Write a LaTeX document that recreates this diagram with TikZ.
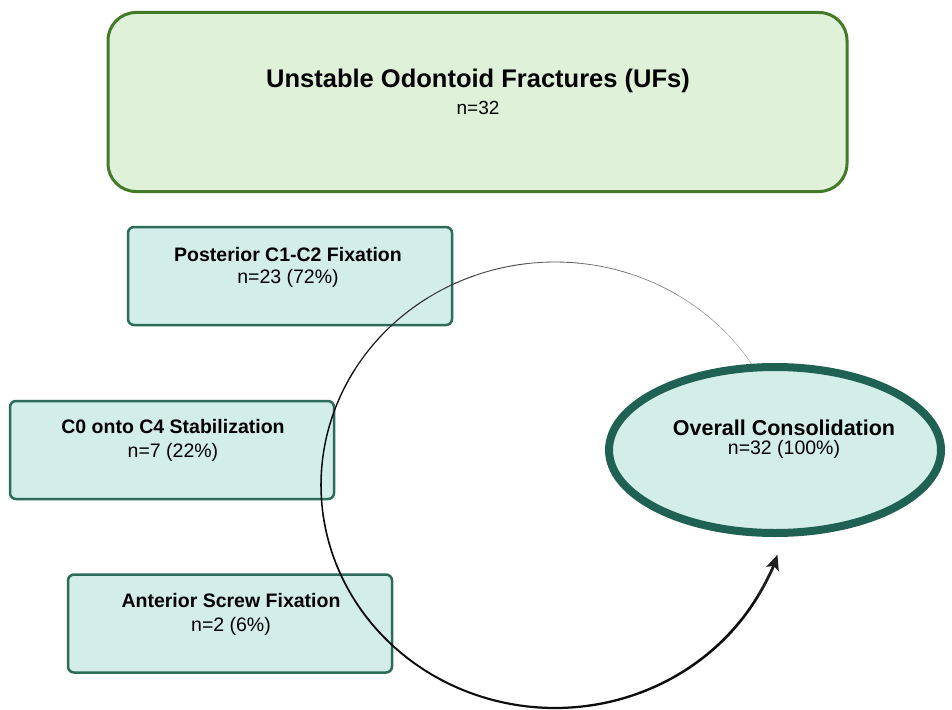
\documentclass[tikz,border=0pt]{standalone}
\usepackage{fontspec}
\setmainfont{Liberation Sans}
\usetikzlibrary{shapes.geometric,arrows.meta}
\definecolor{greenfill}{HTML}{DFF2D9}
\definecolor{greenline}{HTML}{427A28}
\definecolor{tealfill}{HTML}{D3EDE8}
\definecolor{tealline}{HTML}{2D6B5B}
\definecolor{ellline}{HTML}{1F6152}
\tikzset{
  titlebox/.style={draw=greenline, fill=greenfill, line width=3pt, rounded corners=28pt, inner sep=0pt},
  methodbox/.style={draw=tealline, fill=tealfill, line width=2.5pt, rounded corners=6pt, minimum width=324pt, minimum height=98pt, inner sep=0pt},
  resultell/.style={draw=ellline, fill=tealfill, line width=8pt, ellipse, minimum width=332pt, minimum height=166pt, inner sep=0pt},
  headtxt/.style={anchor=base, inner sep=0pt, font=\bfseries\fontsize{19.5}{23}\selectfont},
  subtxt/.style={anchor=base, inner sep=0pt, font=\fontsize{19.5}{23}\selectfont},
}
\begin{document}
\begin{tikzpicture}[x=1pt,y=1pt]
\useasboundingbox (0,0) rectangle (952,-709);
% boxes
\node[titlebox, minimum width=739pt, minimum height=179pt] (uf) at (477.5,-102) {};
\node[methodbox] (post) at (290,-276) {};
\node[methodbox] (c0) at (172,-450) {};
\node[methodbox] (ant) at (230,-623.5) {};
% circular arrow (tapered)
\coordinate (ac) at (555,-485);
\foreach \i in {0,...,22}{
  \pgfmathsetmacro\ta{32.5+\i*12.9375}
  \pgfmathsetmacro\tb{\ta+12.9375}
  \pgfmathsetmacro\w{0.45+2.3*\i/23}
  \pgfmathtruncatemacro\g{40+55*min(1,\i/9)}
  \draw[line width=\w pt, black!\g, line cap=round]
    (ac) ++(\ta:234pt and 223pt) arc[start angle=\ta, end angle=\tb, x radius=234pt, y radius=223pt];
}
\draw[line width=2.8pt, black!88, line cap=round, -{Stealth[length=15pt,width=13pt,inset=3pt]}]
  (ac) ++(330.0625:234pt and 223pt) arc[start angle=330.0625, end angle=341.8, x radius=236pt, y radius=223pt];
% ellipse
\node[resultell] (oc) at (775,-450) {};
% texts
\node[anchor=base, inner sep=0pt, font=\bfseries\fontsize{25.5}{30}\selectfont] (uft) at (478,-87) {Unstable Odontoid Fractures (UFs)};
\node[anchor=base, inner sep=0pt, font=\fontsize{19}{23}\selectfont] (ufn) at (478,-114) {n=32};
\node[headtxt] (postt) at (288,-261) {Posterior C1-C2 Fixation};
\node[subtxt] (postn) at (288,-283) {n=23 (72\%)};
\node[headtxt] (c0t) at (173,-433) {C0 onto C4 Stabilization};
\node[subtxt] (c0n) at (173,-457) {n=7 (22\%)};
\node[headtxt] (antt) at (231,-607) {Anterior Screw Fixation};
\node[subtxt] (antn) at (231,-631) {n=2 (6\%)};
\node[anchor=base, inner sep=0pt, font=\bfseries\fontsize{21.5}{26}\selectfont] (oct) at (784,-435) {Overall Consolidation};
\node[subtxt] (ocn) at (784,-454) {n=32 (100\%)};
\end{tikzpicture}
\end{document}
